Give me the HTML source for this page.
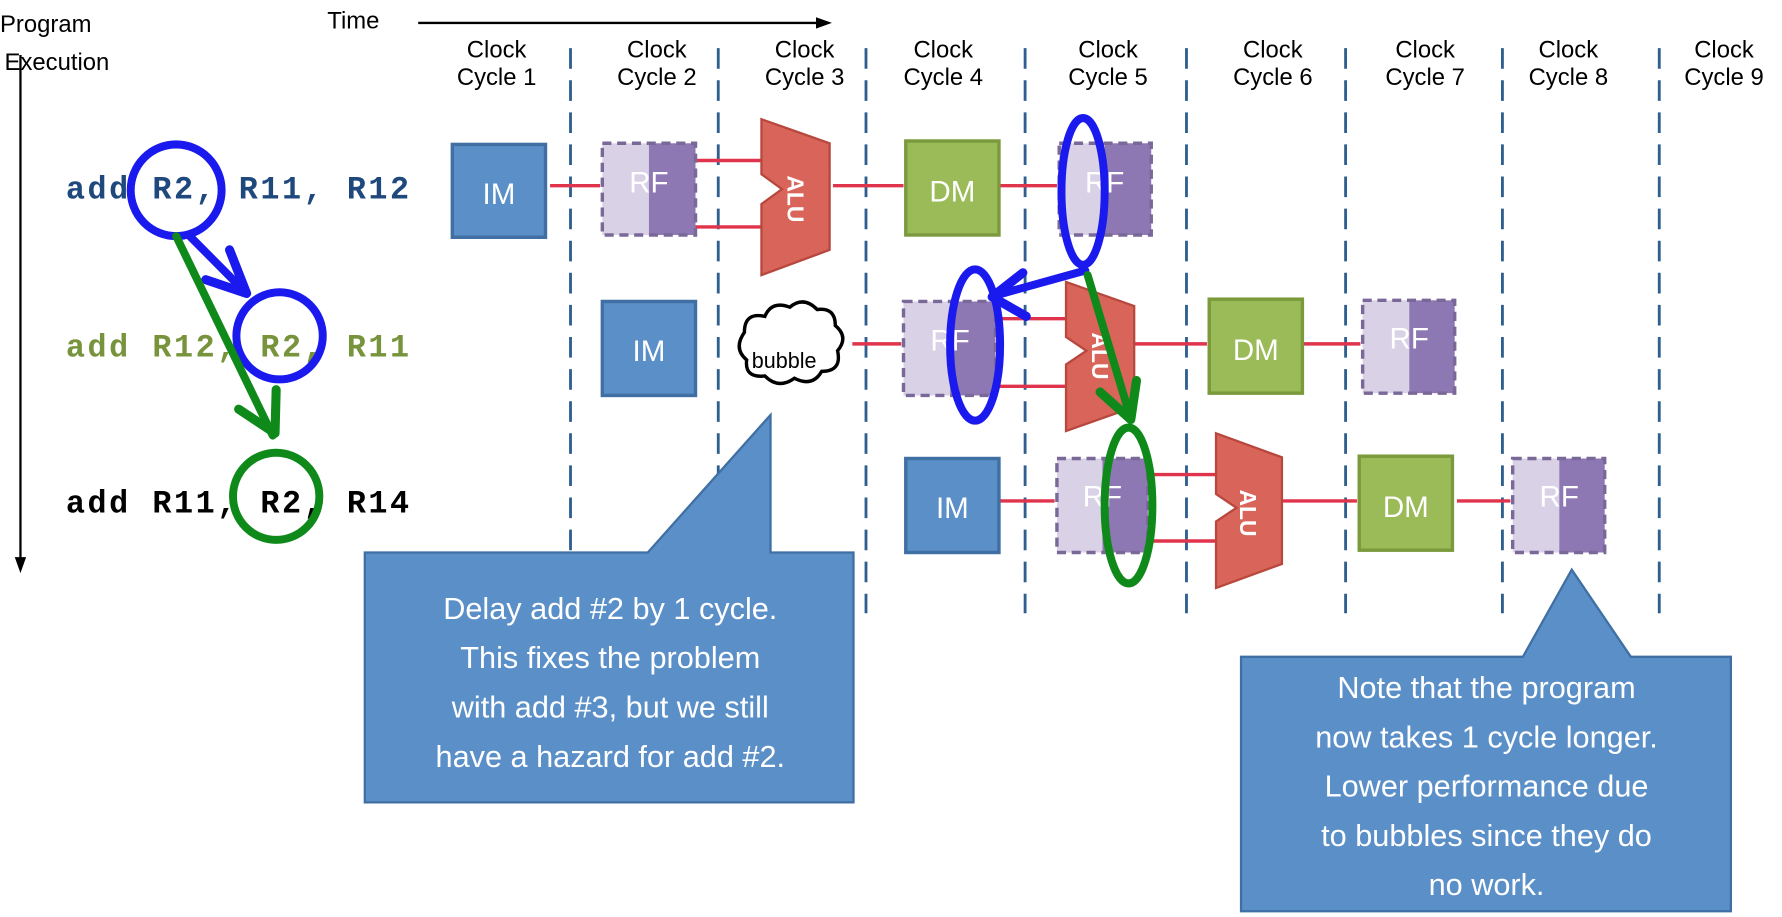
<!DOCTYPE html>
<html><head><meta charset="utf-8"><style>
html,body{margin:0;padding:0;background:#fff;}
svg{display:block;}
text{font-family:"Liberation Sans",sans-serif;}
.mono{font-family:"Liberation Mono",monospace;font-weight:bold;font-size:28px;}
.w{fill:#fff;font-size:26px;}
</style></head><body>
<svg width="1782" height="917" viewBox="0 0 1568 800" preserveAspectRatio="none" xmlns="http://www.w3.org/2000/svg">
<!-- headers -->
<text x="0" y="28" font-size="21">Program</text>
<text x="4" y="61" font-size="21">Execution</text>
<line x1="18" y1="48" x2="18" y2="492" stroke="#000" stroke-width="2"/>
<path d="M13,486 L18,500 L23,486 Z" fill="#000"/>
<text x="288" y="25" font-size="21">Time</text>
<line x1="368" y1="20" x2="722" y2="20" stroke="#000" stroke-width="2"/>
<path d="M718,15 L732,20 L718,25 Z" fill="#000"/>
<g font-size="21" text-anchor="middle">
<text x="437" y="50">Clock</text><text x="437" y="74">Cycle 1</text>
<text x="578" y="50">Clock</text><text x="578" y="74">Cycle 2</text>
<text x="708" y="50">Clock</text><text x="708" y="74">Cycle 3</text>
<text x="830" y="50">Clock</text><text x="830" y="74">Cycle 4</text>
<text x="975" y="50">Clock</text><text x="975" y="74">Cycle 5</text>
<text x="1120" y="50">Clock</text><text x="1120" y="74">Cycle 6</text>
<text x="1254" y="50">Clock</text><text x="1254" y="74">Cycle 7</text>
<text x="1380" y="50">Clock</text><text x="1380" y="74">Cycle 8</text>
<text x="1517" y="50">Clock</text><text x="1517" y="74">Cycle 9</text>
</g>
<g stroke="#2e5f8f" stroke-width="2.5" stroke-dasharray="18,10">
<line x1="502" y1="42" x2="502" y2="535"/><line x1="632" y1="42" x2="632" y2="535"/>
<line x1="762" y1="42" x2="762" y2="535"/><line x1="902" y1="42" x2="902" y2="535"/>
<line x1="1044" y1="42" x2="1044" y2="535"/><line x1="1184" y1="42" x2="1184" y2="535"/>
<line x1="1322" y1="42" x2="1322" y2="535"/><line x1="1460" y1="42" x2="1460" y2="535"/>
</g>
<!-- red wires -->
<g stroke="#e0344c" stroke-width="3">
<line x1="484" y1="162" x2="528" y2="162"/><line x1="612" y1="140" x2="670" y2="140"/><line x1="612" y1="198" x2="670" y2="198"/>
<line x1="733" y1="162" x2="795" y2="162"/><line x1="879" y1="162" x2="930" y2="162"/>
<line x1="750" y1="300" x2="793" y2="300"/><line x1="876" y1="278" x2="938" y2="278"/><line x1="876" y1="337" x2="938" y2="337"/>
<line x1="998" y1="300" x2="1062" y2="300"/><line x1="1146" y1="300" x2="1197" y2="300"/>
<line x1="879" y1="437" x2="928" y2="437"/><line x1="1010" y1="414" x2="1070" y2="414"/><line x1="1010" y1="472" x2="1070" y2="472"/>
<line x1="1128" y1="437" x2="1194" y2="437"/><line x1="1282" y1="437" x2="1329" y2="437"/>
</g>
<!-- IM -->
<g fill="#5b8fc8" stroke="#3f6fa3" stroke-width="3">
<rect x="398" y="126" width="82" height="81"/><rect x="530" y="263" width="82" height="82"/><rect x="797" y="400" width="82" height="82"/>
</g>
<g class="w" text-anchor="middle">
<text x="439" y="178" class="w">IM</text><text x="571" y="315" class="w">IM</text><text x="838" y="452" class="w">IM</text>
</g>
<!-- DM -->
<g fill="#9bbb59" stroke="#7a9a3c" stroke-width="3">
<rect x="797" y="123" width="82" height="82"/><rect x="1064" y="261" width="82" height="82"/><rect x="1196" y="398" width="82" height="82"/>
</g>
<g class="w" text-anchor="middle">
<text x="838" y="176" class="w">DM</text><text x="1105" y="314" class="w">DM</text><text x="1237" y="451" class="w">DM</text>
</g>
<!-- RF -->
<g>
<rect x="530" y="125" width="41" height="80" fill="#d9d1e6"/><rect x="571" y="125" width="41" height="80" fill="#8e78b3"/><rect x="530" y="125" width="82" height="80" fill="none" stroke="#7a6898" stroke-width="3" stroke-dasharray="8,5"/>
<rect x="932" y="125" width="40" height="80" fill="#d9d1e6"/><rect x="972" y="125" width="41" height="80" fill="#8e78b3"/><rect x="932" y="125" width="81" height="80" fill="none" stroke="#7a6898" stroke-width="3" stroke-dasharray="8,5"/>
<rect x="795" y="263" width="41" height="82" fill="#d9d1e6"/><rect x="836" y="263" width="40" height="82" fill="#8e78b3"/><rect x="795" y="263" width="81" height="82" fill="none" stroke="#7a6898" stroke-width="3" stroke-dasharray="8,5"/>
<rect x="1199" y="262" width="41" height="81" fill="#d9d1e6"/><rect x="1240" y="262" width="40" height="81" fill="#8e78b3"/><rect x="1199" y="262" width="81" height="81" fill="none" stroke="#7a6898" stroke-width="3" stroke-dasharray="8,5"/>
<rect x="930" y="400" width="40" height="82" fill="#d9d1e6"/><rect x="970" y="400" width="40" height="82" fill="#8e78b3"/><rect x="930" y="400" width="80" height="82" fill="none" stroke="#7a6898" stroke-width="3" stroke-dasharray="8,5"/>
<rect x="1331" y="400" width="41" height="82" fill="#d9d1e6"/><rect x="1372" y="400" width="40" height="82" fill="#8e78b3"/><rect x="1331" y="400" width="81" height="82" fill="none" stroke="#7a6898" stroke-width="3" stroke-dasharray="8,5"/>
</g>
<g class="w" text-anchor="middle">
<text x="571" y="168">RF</text><text x="972" y="168">RF</text><text x="836" y="306">RF</text><text x="1240" y="304">RF</text><text x="970" y="442">RF</text><text x="1372" y="442">RF</text>
</g>
<!-- ALUs -->
<g fill="#d9645a" stroke="#b8473e" stroke-width="2">
<path d="M670,104 L730,125 L730,218 L670,240 L670,178 L688,165 L670,152 Z"/>
<path d="M938,246 L998,267 L998,355 L938,376 L938,318 L956,306 L938,294 Z"/>
<path d="M1070,378 L1128,399 L1128,492 L1070,513 L1070,455 L1088,443 L1070,431 Z"/>
</g>
<g fill="#fff" font-size="20" font-weight="bold">
<text transform="translate(693,153) rotate(90)">ALU</text>
<text transform="translate(961,290) rotate(90)">ALU</text>
<text transform="translate(1091,427) rotate(90)">ALU</text>
</g>
<!-- bubble -->
<path d="M655,290 q0,-18 18,-14 q6,-14 22,-8 q12,-10 24,2 q16,-2 16,14 q12,10 2,22 q4,18 -14,18 q-8,14 -24,6 q-14,10 -26,-2 q-18,2 -16,-14 q-12,-10 -2,-24 z" fill="#fff" stroke="#000" stroke-width="3"/>
<text x="690" y="321" font-size="19" text-anchor="middle">bubble</text>
<!-- instructions -->
<text x="58" y="173" class="mono" fill="#1f497d" textLength="302">add R2,  R11, R12</text>
<text x="58" y="311" class="mono" fill="#77933c" textLength="302">add R12, R2,  R11</text>
<text x="58" y="447" class="mono" fill="#000" textLength="302">add R11, R2,  R14</text>
<!-- hazard marks -->
<g fill="none" stroke-linecap="round" stroke-linejoin="round">
<circle cx="155" cy="166" r="40" stroke="#1a1aee" stroke-width="7"/>
<circle cx="246" cy="293" r="38" stroke="#1a1aee" stroke-width="7"/>
<line x1="166" y1="205" x2="215" y2="254" stroke="#1a1aee" stroke-width="7"/>
<path d="M202,218 L217,256 L181,244" stroke="#1a1aee" stroke-width="8"/>
<circle cx="243" cy="433" r="38" stroke="#0f8a1a" stroke-width="7"/>
<line x1="155" y1="206" x2="240" y2="380" stroke="#0f8a1a" stroke-width="7"/>
<path d="M210,357 L242,378 L243,340" stroke="#0f8a1a" stroke-width="8"/>
<ellipse cx="953" cy="167" rx="19" ry="64" stroke="#1a1aee" stroke-width="7"/>
<ellipse cx="858" cy="301" rx="22" ry="66" stroke="#1a1aee" stroke-width="7"/>
<line x1="955" y1="236" x2="875" y2="258" stroke="#1a1aee" stroke-width="7"/>
<path d="M900,238 L873,259 L903,276" stroke="#1a1aee" stroke-width="8"/>
<line x1="957" y1="240" x2="994" y2="362" stroke="#0f8a1a" stroke-width="7"/>
<path d="M968,342 L995,366 L1000,332" stroke="#0f8a1a" stroke-width="8"/>
<ellipse cx="993" cy="441" rx="21" ry="68" stroke="#0f8a1a" stroke-width="7"/>
</g>
<!-- callouts -->
<path d="M321,482 L570,482 L678,362 L678,482 L751,482 L751,700 L321,700 Z" fill="#5b8fc8" stroke="#3f6fa3" stroke-width="2"/>
<g fill="#fff" font-size="27" text-anchor="middle">
<text x="537" y="540">Delay add #2 by 1 cycle.</text>
<text x="537" y="583">This fixes the problem</text>
<text x="537" y="626">with add #3, but we still</text>
<text x="537" y="669">have a hazard for add #2.</text>
</g>
<path d="M1092,573 L1340,573 L1383,497 L1435,573 L1523,573 L1523,795 L1092,795 Z" fill="#5b8fc8" stroke="#3f6fa3" stroke-width="2"/>
<g fill="#fff" font-size="27" text-anchor="middle">
<text x="1308" y="609">Note that the program</text>
<text x="1308" y="652">now takes 1 cycle longer.</text>
<text x="1308" y="695">Lower performance due</text>
<text x="1308" y="738">to bubbles since they do</text>
<text x="1308" y="781">no work.</text>
</g>
</svg>
</body></html>
